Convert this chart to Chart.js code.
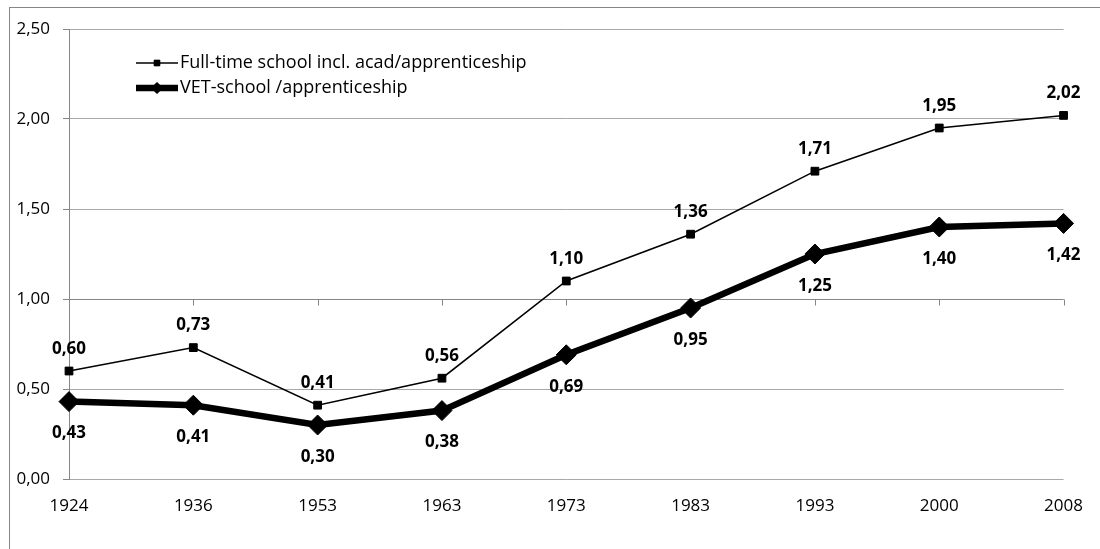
<!DOCTYPE html>
<html>
<head>
<meta charset="utf-8">
<script src="https://cdn.jsdelivr.net/npm/chart.js@4/dist/chart.umd.min.js"></script>
<style>
  body { margin: 0; background: #fff; }
  #wrap { width: 1100px; height: 549px; }
</style>
</head>
<body>
<div id="wrap"><canvas id="myChart" width="1100" height="549"></canvas></div>
<script>
'use strict';

let years = ['1924', '1936', '1953', '1963', '1973', '1983', '1993', '2000', '2008'];
let fullTime = [0.60, 0.73, 0.41, 0.56, 1.10, 1.36, 1.71, 1.95, 2.02];
let vetSchool = [0.43, 0.41, 0.30, 0.38, 0.69, 0.95, 1.25, 1.40, 1.42];
let seriesNames = ['Full-time school incl. acad/apprenticeship', 'VET-school /apprenticeship'];
let yMin = 0;
let yMax = 2.5;
let yStep = 0.5;

const FONT = '"Open Sans", "Liberation Sans", sans-serif';
const AXIS_GRAY = '#868686';
const GRID_GRAY = '#a8a8a8';

function formatComma(v) {
  return Number(v).toFixed(2).replace('.', ',');
}

// outer frame of the chart object
const framePlugin = {
  id: 'frame',
  beforeDraw(chart) {
    let ctx = chart.ctx;
    ctx.save();
    ctx.fillStyle = '#fff';
    ctx.fillRect(0, 0, chart.width, chart.height);
    ctx.strokeStyle = AXIS_GRAY;
    ctx.lineWidth = 1;
    ctx.strokeRect(9.5, 7.5, chart.width + 20, chart.height + 20);
    ctx.restore();
  }
};

// horizontal axis crosses at 1,00 with tick marks below it
const crossAxisPlugin = {
  id: 'crossAxis',
  beforeDatasetsDraw(chart) {
    let ctx = chart.ctx;
    let x = chart.scales.x;
    let y = Math.round(chart.scales.y.getPixelForValue(1)) + 0.5;
    ctx.save();
    ctx.strokeStyle = AXIS_GRAY;
    ctx.lineWidth = 1;
    ctx.beginPath();
    ctx.moveTo(chart.chartArea.left, y);
    ctx.lineTo(chart.chartArea.right, y);
    for (let i = 0; i < years.length; i++) {
      let px = Math.round(x.getPixelForTick(i)) + 0.5;
      ctx.moveTo(px, y);
      ctx.lineTo(px, y + 6);
    }
    ctx.stroke();
    ctx.restore();
  }
};

// value labels: first series above the points, second below
const valueLabelPlugin = {
  id: 'valueLabels',
  afterDatasetsDraw(chart) {
    let ctx = chart.ctx;
    let offsets = [-22, 32];
    ctx.save();
    ctx.font = 'bold 17px ' + FONT;
    ctx.fillStyle = '#000';
    ctx.textAlign = 'center';
    ctx.textBaseline = 'middle';
    chart.data.datasets.forEach(function (ds, d) {
      let meta = chart.getDatasetMeta(d);
      meta.data.forEach(function (pt, i) {
        ctx.fillText(formatComma(ds.data[i]), pt.x, pt.y + offsets[d]);
      });
    });
    ctx.restore();
  }
};

// legend inside the plot area, top left
const insideLegendPlugin = {
  id: 'insideLegend',
  afterDraw(chart) {
    let ctx = chart.ctx;
    let rowY = [63, 88];
    let markRadius = [4, 5.5];
    ctx.save();
    chart.data.datasets.forEach(function (ds, d) {
      let y = rowY[d];
      ctx.strokeStyle = '#000';
      ctx.lineWidth = ds.borderWidth;
      ctx.lineCap = 'butt';
      ctx.beginPath();
      ctx.moveTo(136, y);
      ctx.lineTo(178, y);
      ctx.stroke();
      ctx.fillStyle = '#000';
      ctx.lineWidth = 1;
      Chart.helpers.drawPoint(ctx, {
        pointStyle: ds.pointStyle,
        radius: markRadius[d],
        rotation: 0,
        borderWidth: 1
      }, 157, y);
      ctx.fill();
      ctx.font = '18px ' + FONT;
      ctx.textAlign = 'left';
      ctx.textBaseline = 'middle';
      ctx.fillText(ds.label, 180, y);
    });
    ctx.restore();
  }
};

let ctx = document.getElementById('myChart').getContext('2d');
let myChart = new Chart(ctx, {
  type: 'line',
  data: {
    labels: years,
    datasets: [{
      label: seriesNames[0],
      data: fullTime,
      borderColor: '#000',
      backgroundColor: '#000',
      borderWidth: 1.5,
      pointStyle: 'rect',
      pointRadius: 5.5,
      pointBorderWidth: 1,
      tension: 0
    }, {
      label: seriesNames[1],
      data: vetSchool,
      borderColor: '#000',
      backgroundColor: '#000',
      borderWidth: 6.5,
      pointStyle: 'rectRot',
      pointRadius: 10,
      pointBorderWidth: 1,
      tension: 0
    }]
  },
  options: {
    responsive: false,
    animation: false,
    layout: {
      padding: { top: 29, right: 29, left: 0, bottom: 0 }
    },
    plugins: {
      legend: { display: false },
      tooltip: { enabled: false }
    },
    scales: {
      x: {
        offset: false,
        grid: { display: false, drawTicks: false },
        border: { display: false },
        ticks: {
          color: '#000',
          padding: 17,
          maxRotation: 0,
          font: { family: FONT, size: 17 }
        },
        afterFit(scale) {
          scale.height = 70;
        }
      },
      y: {
        min: yMin,
        max: yMax,
        grid: {
          color: GRID_GRAY,
          tickColor: AXIS_GRAY,
          tickLength: 6
        },
        border: { display: true, color: AXIS_GRAY, width: 1 },
        ticks: {
          stepSize: yStep,
          color: '#000',
          padding: 13,
          font: { family: FONT, size: 17 },
          callback: function (value) {
            return formatComma(value);
          }
        },
        afterFit(scale) {
          scale.width = 69;
        }
      }
    }
  },
  plugins: [framePlugin, crossAxisPlugin, valueLabelPlugin, insideLegendPlugin]
});
</script>
</body>
</html>
